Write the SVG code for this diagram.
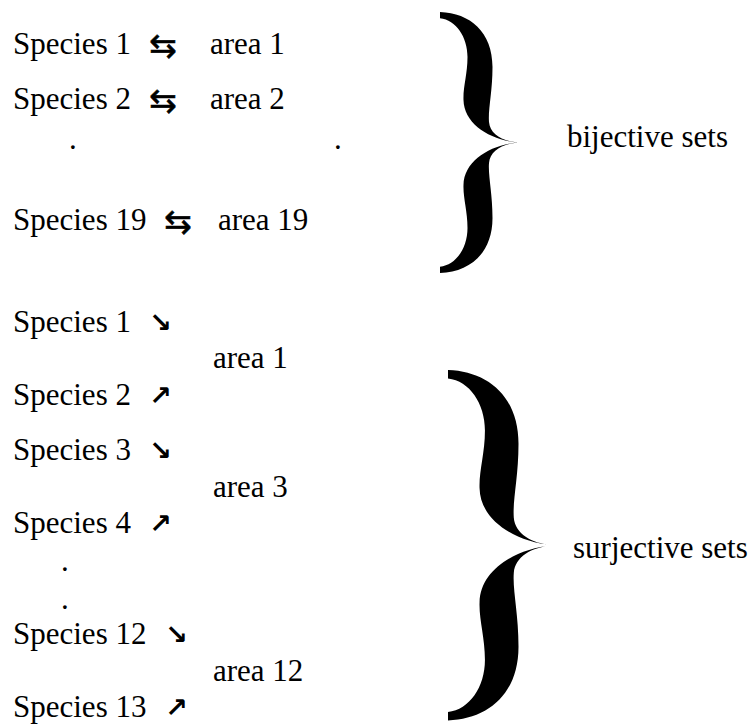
<svg xmlns="http://www.w3.org/2000/svg" xmlns:xlink="http://www.w3.org/1999/xlink" width="753" height="725" viewBox="0 0 753 725">
<defs>
<style>
.t{font-family:"Liberation Serif","Times New Roman",serif;font-size:31px;fill:#000}
.a{font-family:"DejaVu Sans",sans-serif;font-size:33px;fill:#000;stroke:#000;stroke-width:0.6}
.d{font-family:"DejaVu Sans",sans-serif;font-size:27px;font-weight:bold;fill:#000}
.b{fill:#000}
</style>
<path id="brace" d="M0,0 C30,1 52.5,20 52.5,55 C52.5,80 48,97 49,110 C50,122 62,129 78,130.5 C62,132 50,139 49,151 C48,164 52.5,181 52.5,206 C52.5,241 30,260 0,261 L0,254.7 C16,253 27.5,236 27.5,216 C27.5,199 23,186 23.5,173 C24,149 50,133 78,130.5 C50,128 24,112 23.5,88 C23,75 27.5,62 27.5,45 C27.5,25 16,8 0,6.3 Z"/>
</defs>
<rect width="753" height="725" fill="#fff"/>
<g id="bijective">
<g id="b1"><text class="t" x="13" y="54">Species 1</text><text class="a" x="149" y="57">⇆</text><text class="t" x="210" y="54">area 1</text></g>
<g id="b2"><text class="t" x="13" y="109">Species 2</text><text class="a" x="149" y="112">⇆</text><text class="t" x="210" y="109">area 2</text></g>
<g id="bdots"><text class="t" x="69" y="149">.</text><text class="t" x="334" y="149">.</text></g>
<g id="b19"><text class="t" x="13" y="230">Species 19</text><text class="a" x="164" y="233">⇆</text><text class="t" x="218" y="230">area 19</text></g>
<g id="brace1"><use xlink:href="#brace" class="b" transform="translate(440,12)"/></g>
<text id="bij-label" class="t" x="567" y="147">bijective sets</text>
</g>
<g id="surjective">
<g id="s1"><text class="t" x="13" y="332">Species 1</text><text class="d" x="149" y="332">↘</text></g>
<text id="sa1" class="t" x="213" y="368">area 1</text>
<g id="s2"><text class="t" x="13" y="405">Species 2</text><text class="d" x="149" y="405">↗</text></g>
<g id="s3"><text class="t" x="13" y="460">Species 3</text><text class="d" x="149" y="460">↘</text></g>
<text id="sa3" class="t" x="213" y="497">area 3</text>
<g id="s4"><text class="t" x="13" y="533">Species 4</text><text class="d" x="149" y="533">↗</text></g>
<g id="sdots"><text class="t" x="61" y="571">.</text><text class="t" x="61" y="609">.</text></g>
<g id="s12"><text class="t" x="13" y="644">Species 12</text><text class="d" x="165" y="644">↘</text></g>
<text id="sa12" class="t" x="213" y="681">area 12</text>
<g id="s13"><text class="t" x="13" y="717">Species 13</text><text class="d" x="165" y="717">↗</text></g>
<g id="brace2"><use xlink:href="#brace" class="b" transform="translate(448,370) scale(1.343)"/></g>
<text id="surj-label" class="t" x="573" y="558">surjective sets</text>
</g>
</svg>
